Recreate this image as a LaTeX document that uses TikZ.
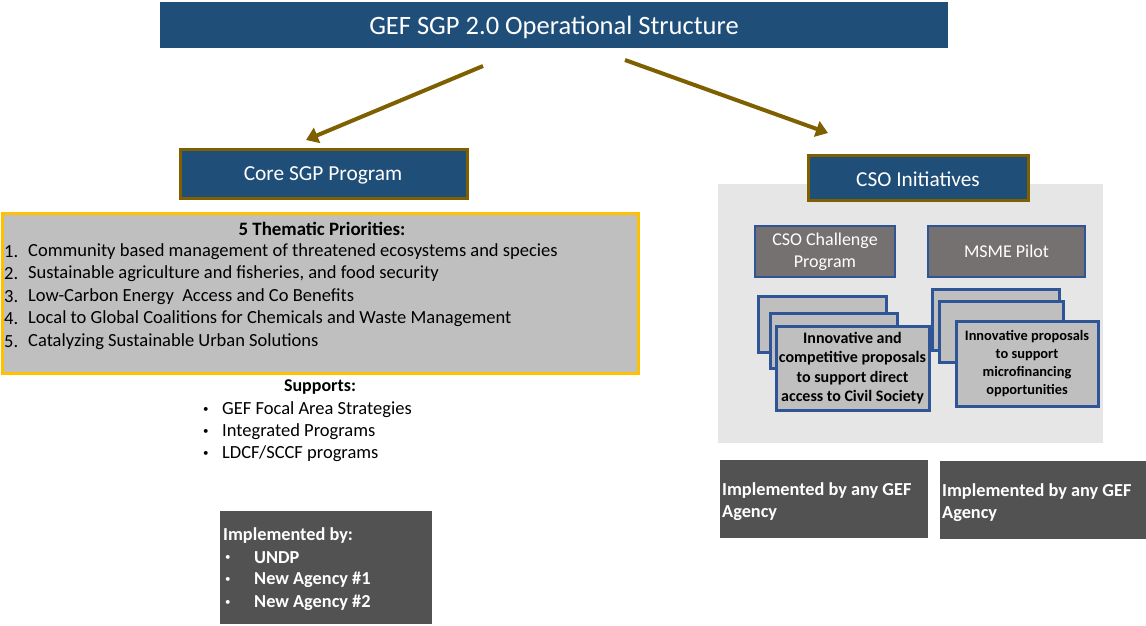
\documentclass[tikz,border=0pt]{standalone}
\usepackage{fontspec}
\setmainfont{Carlito}
\usetikzlibrary{arrows.meta}
\definecolor{navy}{HTML}{1F4E79}
\definecolor{olivebrown}{HTML}{7F6000}
\definecolor{amber}{HTML}{FFC000}
\definecolor{lightgray}{HTML}{BFBFBF}
\definecolor{panelgray}{HTML}{E7E6E6}
\definecolor{warmgray}{HTML}{767171}
\definecolor{darkgray}{HTML}{525252}
\definecolor{cardblue}{HTML}{2F5597}
\newcommand{\fs}[2]{\fontsize{#1}{#2}\selectfont}
\tikzset{
  box/.style={anchor=north west, inner sep=0pt, outer sep=0pt},
  headbox/.style={box, fill=navy, draw=olivebrown, line width=3pt, text=white},
  subbox/.style={box, fill=warmgray, draw=cardblue, line width=1.5pt, text=white, align=center, font=\fs{18}{22}},
  card/.style={box, fill=lightgray, draw=cardblue, line width=3pt, align=center},
  darkbox/.style={box, fill=darkgray},
  linktext/.style={anchor=west, inner sep=0pt},
  body/.style={linktext, font=\fs{18.5}{22}},
  whitebold/.style={linktext, text=white, font=\bfseries\fs{18.3}{22}},
  dot/.style={linktext, font=\fs{11}{12}},
  flow/.style={draw=olivebrown, line width=4pt, -{Triangle[length=12pt,width=16pt]}}
}
\begin{document}
\begin{tikzpicture}[x=1pt,y=-1pt]
\useasboundingbox (0,0) rectangle (1146,625);

% title
\node[box, fill=navy, minimum width=788pt, minimum height=46pt] (title) at (160,2) {};
\node[text=white, font=\fs{26.5}{30}] (titletext) at (554,27) {GEF SGP 2.0 Operational Structure};

% connectors from the title
\coordinate (lstart) at (483,66);
\coordinate (lend) at (306,140);
\coordinate (rstart) at (625,60);
\coordinate (rend) at (828,133);
\draw[flow] (lstart) -- (lend);
\draw[flow] (rstart) -- (rend);

% core programme
\node[headbox, minimum width=287pt, minimum height=49pt] (core) at (180,149) {};
\node[text=white, font=\fs{21.4}{24}] (coretext) at (323,175) {Core SGP Program};

\node[box, fill=lightgray, draw=amber, line width=3pt, minimum width=636pt, minimum height=160pt] (themes) at (2,213) {};
\node[font=\bfseries\fs{18.9}{22}] (themetitle) at (322,229) {5 Thematic Priorities:};
\foreach \i/\y/\t in {
  1/252/{Community based management of threatened ecosystems and species},
  2/274/{Sustainable agriculture and fisheries, and food security},
  3/297/{Low-Carbon Energy\ \ Access and Co Benefits},
  4/319/{Local to Global Coalitions for Chemicals and Waste Management},
  5/342/{Catalyzing Sustainable Urban Solutions}}{
  \node[body] (num\i) at (4,\y) {\i.};
  \node[body] (theme\i) at (28,\y) {\t};
}

\node[font=\bfseries\fs{18}{22}] (supports) at (320,387) {Supports:};
\foreach \i/\y/\t in {1/410/{GEF Focal Area Strategies}, 2/432/{Integrated Programs}, 3/454/{LDCF/SCCF programs}}{
  \node[dot] (sbul\i) at (203,\y) {•};
  \node[body] (sup\i) at (222,\y) {\t};
}

\node[darkbox, minimum width=212pt, minimum height=113pt] (impl) at (220,511) {};
\node[whitebold] (impltitle) at (223,536) {Implemented by:};
\foreach \i/\y/\t in {1/558/{UNDP}, 2/580/{New Agency \#1}, 3/603/{New Agency \#2}}{
  \node[dot, text=white] (ibul\i) at (225,\y) {•};
  \node[whitebold] (impl\i) at (254,\y) {\t};
}

% CSO initiatives
\node[box, fill=panelgray, minimum width=385pt, minimum height=259pt] (panel) at (718,184) {};
\node[headbox, minimum width=220pt, minimum height=45pt] (cso) at (808,155) {};
\node[text=white, font=\fs{21.3}{24}] (csotext) at (918,179) {CSO Initiatives};

\node[subbox, minimum width=140pt, minimum height=51pt] (challenge) at (755,226) {CSO Challenge\\Program};
\node[subbox, minimum width=157pt, minimum height=51pt] (msme) at (928,226) {MSME Pilot};

\node[card, minimum width=128pt, minimum height=56pt] (cardA1) at (758,296) {};
\node[card, minimum width=127pt, minimum height=55pt] (cardA2) at (770,313) {};
\node[card, minimum width=153pt, minimum height=84pt, font=\bfseries\fs{16}{19.5}] (cardA3) at (776,326)
  {Innovative and\\competitive proposals\\to support direct\\access to Civil Society};

\node[card, minimum width=127pt, minimum height=61pt] (cardB1) at (932,289) {};
\node[card, minimum width=124pt, minimum height=61pt] (cardB2) at (939,301) {};
\node[card, minimum width=142pt, minimum height=85pt, font=\bfseries\fs{14.4}{18}] (cardB3) at (956,321)
  {Innovative proposals\\to support\\microfinancing\\opportunities};

\node[darkbox, minimum width=208pt, minimum height=78pt] (implA) at (720,460) {};
\node[whitebold] (implAline1) at (722,491) {Implemented by any GEF};
\node[whitebold] (implAline2) at (722,513) {Agency};
\node[darkbox, minimum width=206pt, minimum height=78pt] (implB) at (940,461) {};
\node[whitebold] (implBline1) at (942,492) {Implemented by any GEF};
\node[whitebold] (implBline2) at (942,514) {Agency};
\end{tikzpicture}
\end{document}
